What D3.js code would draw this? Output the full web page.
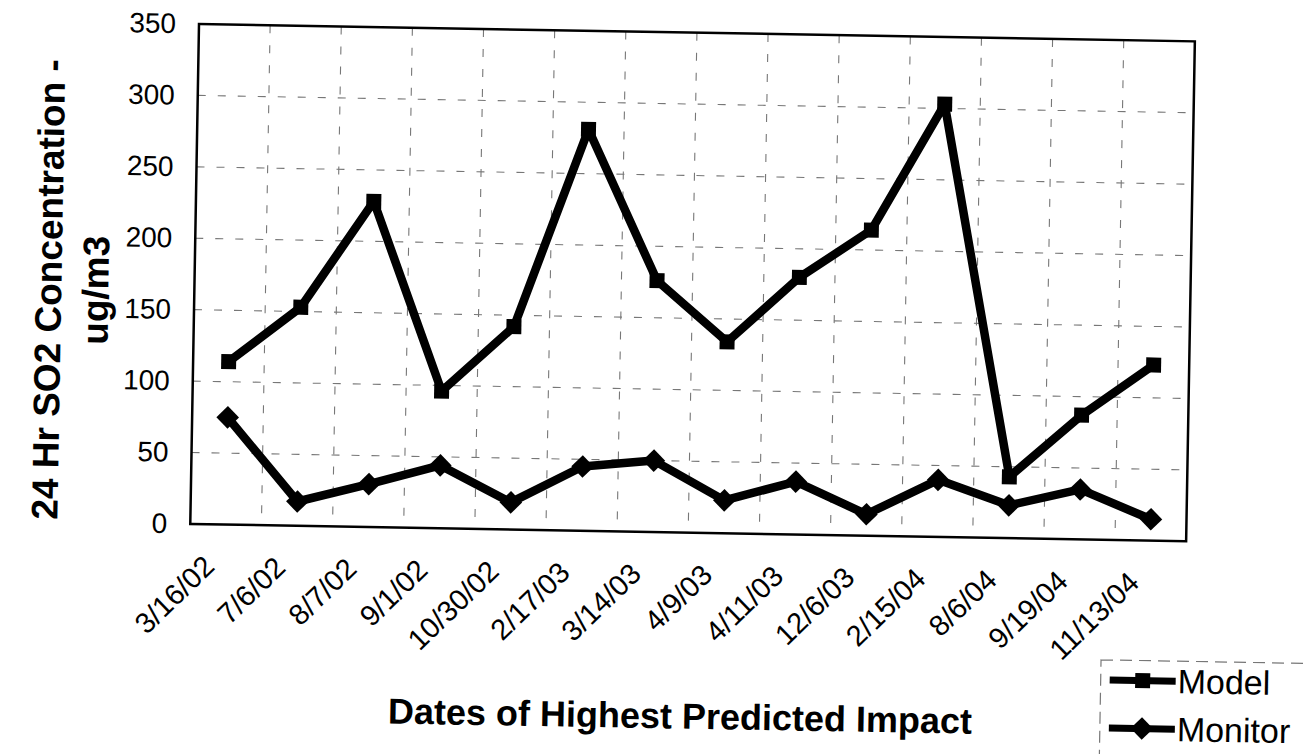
<!DOCTYPE html>
<html>
<head>
<meta charset="utf-8">
<script src="https://cdn.jsdelivr.net/npm/d3@7"></script>
<style>
  body { margin: 0; background: #fff; }
  svg { display: block; font-family: "Liberation Sans", Arial, Helvetica, sans-serif; }
</style>
</head>
<body>
<svg id="chart" width="1308" height="754"></svg>
<script>
// ===============================
// Datos
// ===============================
const fechas = ["3/16/02", "7/6/02", "8/7/02", "9/1/02", "10/30/02", "2/17/03", "3/14/03",
  "4/9/03", "4/11/03", "12/6/03", "2/15/04", "8/6/04", "9/19/04", "11/13/04"];
const modelo = [114, 153, 228, 96, 142, 281, 176, 134, 180, 214, 303, 43, 87, 123];
const monitor = [75, 17, 30, 44, 19, 45, 50, 23, 37, 15, 40, 23, 35, 15];
const ticksY = [0, 50, 100, 150, 200, 250, 300, 350];
const series = [
  { nombre: "Model", valores: modelo, marca: "cuadro" },
  { nombre: "Monitor", valores: monitor, marca: "rombo" },
];

// ===============================
// Layout (hoja escaneada, ligeramente girada)
// ===============================
const W = 1308, H = 754;
const plot = { x0: 199, x1: 1195, y0: 24, y1: 524 };
const giro = 1.0;

const svg = d3.select("#chart");
svg.append("rect").attr("width", W).attr("height", H).attr("fill", "#fff");

const g = svg.append("g")
  .attr("transform", `rotate(${giro},${plot.x0},${plot.y0})`);

const x = d3.scaleBand().domain(fechas).range([plot.x0, plot.x1]);
const cx = d => x(d) + x.bandwidth() / 2;
const y = d3.scaleLinear().domain([0, 350]).range([plot.y1, plot.y0]);

// Rejilla (punteada, como en el escaneo)
g.append("g").attr("class", "rejilla-h")
  .selectAll("line").data(ticksY.slice(1, -1)).join("line")
  .attr("x1", plot.x0).attr("x2", plot.x1)
  .attr("y1", d => y(d)).attr("y2", d => y(d))
  .attr("stroke", "#777").attr("stroke-width", 1.1)
  .attr("stroke-dasharray", "8,12");

g.append("g").attr("class", "rejilla-v")
  .selectAll("line").data(fechas.slice(1)).join("line")
  .attr("x1", d => x(d)).attr("x2", d => x(d))
  .attr("y1", plot.y0).attr("y2", plot.y1)
  .attr("stroke", "#777").attr("stroke-width", 1.1)
  .attr("stroke-dasharray", "8,12");

// Marco
g.append("rect")
  .attr("x", plot.x0).attr("y", plot.y0)
  .attr("width", plot.x1 - plot.x0).attr("height", plot.y1 - plot.y0)
  .attr("fill", "none").attr("stroke", "#000").attr("stroke-width", 2.5);

// Eje Y
const ejeY = g.append("g")
  .attr("transform", `translate(${plot.x0},0)`)
  .call(d3.axisLeft(y).tickValues(ticksY).tickSize(0).tickPadding(23));
ejeY.select(".domain").remove();
ejeY.attr("font-family", null).attr("font-size", 28);
ejeY.selectAll("text").attr("fill", "#000");

// Eje X
const ejeX = g.append("g")
  .attr("transform", `translate(0,${plot.y1})`)
  .call(d3.axisBottom(x).tickSize(0).tickPadding(0));
ejeX.select(".domain").remove();
ejeX.attr("font-family", null).attr("font-size", 29);
ejeX.selectAll("text")
  .attr("fill", "#000")
  .attr("y", 0).attr("dy", 0)
  .attr("text-anchor", "end")
  .attr("transform", "translate(-9,44) rotate(-45)");

// ===============================
// Series
// ===============================
const linea = d3.line().x((d, i) => cx(fechas[i])).y(d => y(d));

function marcador(sel, tipo) {
  if (tipo === "cuadro") {
    sel.append("rect").attr("x", -7.5).attr("y", -7.5).attr("width", 15).attr("height", 15)
      .attr("fill", "#000");
  } else {
    sel.append("rect").attr("x", -8).attr("y", -8).attr("width", 16).attr("height", 16)
      .attr("fill", "#000").attr("transform", "rotate(45)");
  }
}

series.forEach(s => {
  g.append("path").datum(s.valores)
    .attr("d", linea)
    .attr("fill", "none")
    .attr("stroke", "#000")
    .attr("stroke-width", 8.5)
    .attr("stroke-linejoin", "round");

  g.append("g").selectAll("g").data(s.valores).join("g")
    .attr("transform", (d, i) => `translate(${cx(fechas[i])},${y(d)})`)
    .each(function () { marcador(d3.select(this), s.marca); });
});

// ===============================
// Títulos
// ===============================
const tituloY = g.append("text")
  .attr("transform", "translate(66,292) rotate(-90)")
  .attr("text-anchor", "middle")
  .attr("font-size", 37).attr("font-weight", "bold");
tituloY.append("tspan").attr("x", 0).attr("y", 0).text("24 Hr SO2 Concentration -");
tituloY.append("tspan").attr("x", 0).attr("y", 47).text("ug/m3");

g.append("text")
  .attr("x", 692).attr("y", 720)
  .attr("text-anchor", "middle")
  .attr("font-size", 36).attr("font-weight", "bold")
  .text("Dates of Highest Predicted Impact");

// ===============================
// Leyenda
// ===============================
const ley = g.append("g").attr("transform", "translate(1112,644)");
ley.append("rect")
  .attr("x", 0).attr("y", 0).attr("width", 215).attr("height", 140)
  .attr("fill", "#fff").attr("stroke", "#777").attr("stroke-width", 1.2)
  .attr("stroke-dasharray", "12,7");

series.forEach((s, i) => {
  const fila = ley.append("g").attr("transform", `translate(42,${20 + i * 48})`);
  fila.append("line").attr("x1", -33).attr("x2", 33)
    .attr("stroke", "#000").attr("stroke-width", 7);
  marcador(fila.append("g"), s.marca);
  fila.append("text").attr("x", 35).attr("y", 12)
    .attr("font-size", 34).text(s.nombre);
});
</script>
</body>
</html>
